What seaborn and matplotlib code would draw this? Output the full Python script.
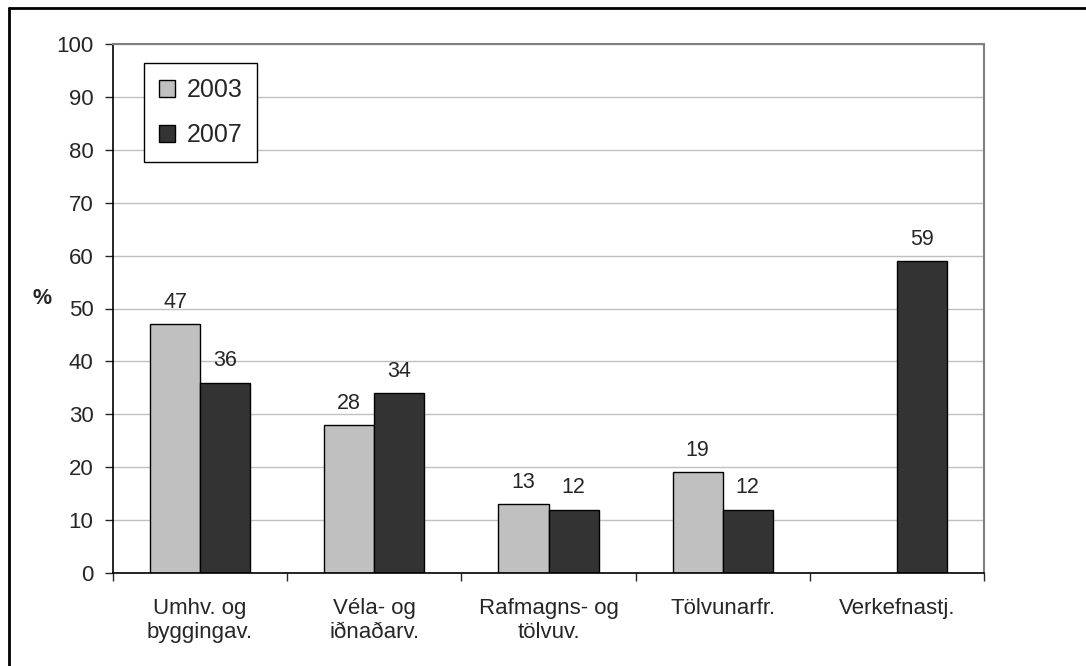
"""
Hlutfall kvenna eftir námsbraut, 2003 og 2007
"""

import numpy as np
import pandas as pd
import seaborn as sns
import matplotlib.pyplot as plt
from matplotlib.patches import Patch
from matplotlib.lines import Line2D
from matplotlib.ticker import FixedLocator

sns.set_style('white')
plt.rcParams['font.family'] = ['Liberation Sans', 'DejaVu Sans']

# Data

categories = ['Umhv. og\nbyggingav.', 'Véla- og\niðnaðarv.', 'Rafmagns- og\ntölvuv.',
              'Tölvunarfr.', 'Verkefnastj.']
years = ['2003', '2007']
vals_2003 = [47, 28, 13, 19, np.nan]
vals_2007 = [36, 34, 12, 12, 59]
colors = {'2003': '#c0c0c0', '2007': '#333333'}

df = pd.DataFrame({
    'cat': categories * 2,
    'year': ['2003'] * 5 + ['2007'] * 5,
    'val': vals_2003 + vals_2007,
})

fig = plt.figure(figsize=(10.86, 6.66), dpi=100)
ax = fig.add_axes([113 / 1086, 1 - 573 / 666, 871 / 1086, 529 / 666])

sns.barplot(data=df, x='cat', y='val', hue='year', hue_order=years, order=categories,
            palette=colors, width=0.575, gap=0, edgecolor='black', linewidth=1,
            saturation=1, legend=False, errorbar=None, ax=ax)

# Value labels
for cont in ax.containers:
    ax.bar_label(cont, fmt='%g', padding=8, fontsize=15.5)

# Axes formatting
ax.set_xlim(-0.5, 4.5)
ax.set_ylim(0, 100)
ax.set_yticks(range(0, 101, 10))
ax.yaxis.grid(True, color='#c0c0c0', linewidth=1)
ax.set_axisbelow(True)
ax.tick_params(axis='y', direction='out', length=6, width=1, pad=8, labelsize=16, left=True)
ax.tick_params(axis='x', which='major', length=0, pad=18, labelsize=16)
ax.xaxis.set_minor_locator(FixedLocator(np.arange(-0.5, 5, 1)))
ax.tick_params(axis='x', which='minor', direction='out', length=6, width=1, bottom=True)
for lab in ax.get_xticklabels():
    lab.set_linespacing(1.2)

ax.set_xlabel('')
ax.set_ylabel('%', rotation=0, fontweight='bold', fontsize=15.5)
ax.yaxis.set_label_coords(-0.0815, 0.5)

for s in ['left', 'bottom']:
    ax.spines[s].set_color('black')
    ax.spines[s].set_linewidth(1.2)
for s in ['top', 'right']:
    ax.spines[s].set_color('#808080')
    ax.spines[s].set_linewidth(1.5)

# Legend
handles = [Patch(facecolor=colors[y], edgecolor='black', linewidth=1, label=y) for y in years]
ax.legend(handles=handles, loc='upper left', bbox_to_anchor=(0.0356, 0.964),
          borderaxespad=0, fontsize=18, handlelength=0.65, handleheight=0.65,
          handletextpad=0.45, labelspacing=0.85, borderpad=0.6, fancybox=False,
          framealpha=1, edgecolor='black', shadow=False).get_frame().set_linewidth(1)

# Outer border (left and top)
fig.add_artist(Line2D([9 / 1086, 9 / 1086], [0, 1 - 8 / 666], transform=fig.transFigure,
                      color='black', linewidth=2))
fig.add_artist(Line2D([9 / 1086, 1], [1 - 8 / 666, 1 - 8 / 666], transform=fig.transFigure,
                      color='black', linewidth=2))

plt.savefig('out.png', dpi=100)
